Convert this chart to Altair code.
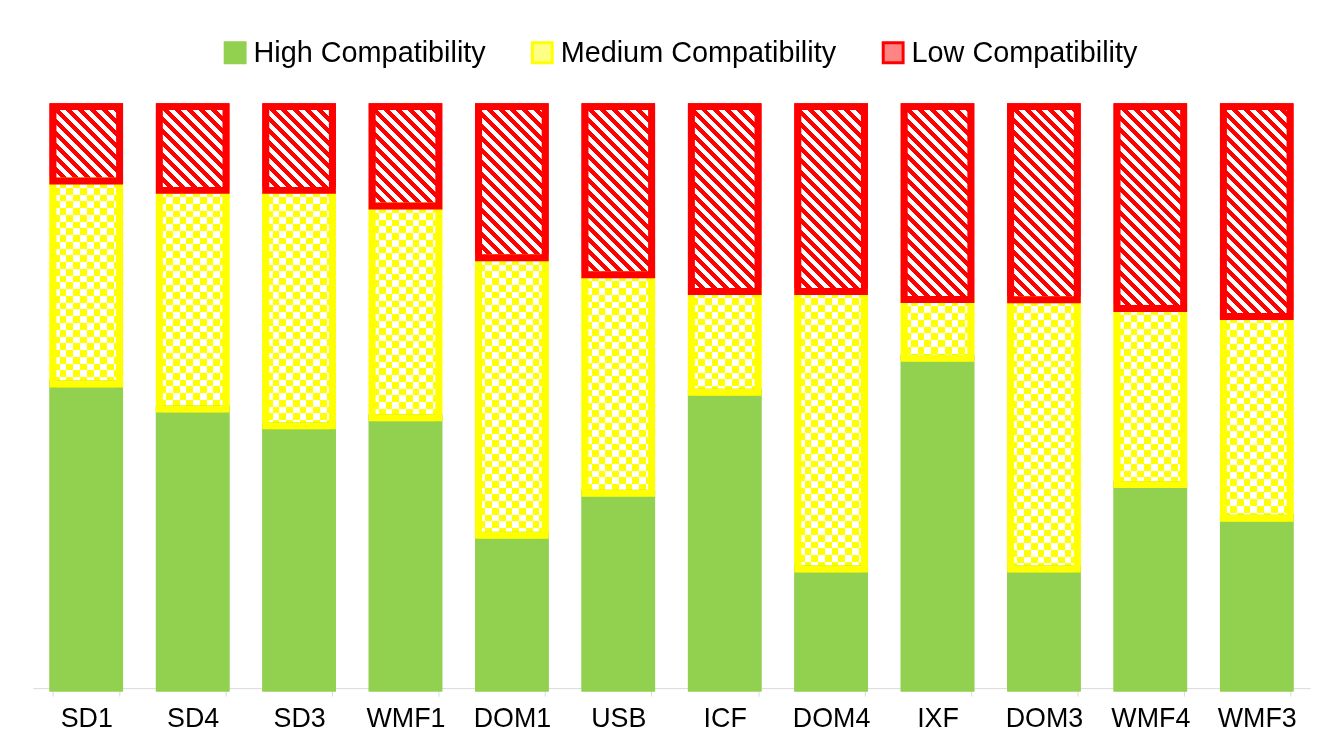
import math
import altair as alt
import pandas as pd

categories = ["SD1", "SD4", "SD3", "WMF1", "DOM1", "USB", "ICF", "DOM4", "IXF", "DOM3", "WMF4", "WMF3"]
high = [52.3, 48.0, 45.1, 46.5, 26.3, 33.5, 50.9, 20.5, 56.8, 20.5, 35.0, 29.2]
medium = [34.9, 37.6, 40.5, 36.4, 47.7, 37.6, 17.3, 47.7, 10.1, 46.3, 30.3, 34.7]
low = [12.8, 14.4, 14.4, 17.1, 26.0, 28.9, 31.8, 31.8, 33.2, 33.2, 34.7, 36.1]
levels = ["High Compatibility", "Medium Compatibility", "Low Compatibility"]

GREEN, YELLOW, RED = "#92d050", "#ffff00", "#ff0000"
legend_fills = [GREEN, "#ffff85", "#ff8585"]
strokes = [GREEN, YELLOW, RED]

# layout
W_PLOT, H_PLOT = 1285, 585
P_IN, P_OUT = 0.374, 0.189
step = W_PLOT / (len(categories) - P_IN + 2 * P_OUT)
bar_w = step * (1 - P_IN)

# pattern styles (gradient stripes)
HATCH_PERIOD, N_H = 8.5, 36
L_H = HATCH_PERIOD * N_H
hatch_stops = []
for k in range(N_H):
    a, b, c = k / N_H, (k + 0.5) / N_H, (k + 1) / N_H
    hatch_stops += [{"offset": a, "color": RED}, {"offset": b, "color": RED},
                    {"offset": b, "color": "#ffffff"}, {"offset": c, "color": "#ffffff"}]

CELL, N_C = 6.8, 54
L_C = CELL * N_C
chk_stops = []
for k in range(N_C):
    col = "#0000ff" if k % 2 == 0 else "#000000"
    chk_stops += [{"offset": k / N_C, "color": col}, {"offset": (k + 1) / N_C, "color": col}]


def hatch_grad(h):
    w = bar_w
    d = w * w + h * h
    return {"gradient": "linear", "x1": 0, "y1": 1,
            "x2": math.sqrt(2) * L_H * w / d, "y2": 1 - math.sqrt(2) * L_H * h / d,
            "stops": hatch_stops}


rows = []
for i, c in enumerate(categories):
    vals = [high[i], medium[i], low[i]]
    tot = sum(vals)
    for k, (lvl, v) in enumerate(zip(levels, vals)):
        h = v / tot * H_PLOT
        if k == 0:
            base, cv, ch = "transparent", "transparent", "transparent"
        elif k == 1:
            base = "#ffffff"
            cv = {"gradient": "linear", "x1": 0, "y1": 0, "x2": L_C / bar_w, "y2": 0, "stops": chk_stops}
            ch = {"gradient": "linear", "x1": 0, "y1": 0, "x2": 0, "y2": L_C / h, "stops": chk_stops}
        else:
            base, cv, ch = hatch_grad(h), "transparent", "transparent"
        rows.append({"Category": c, "Level": lvl, "Value": v, "Ord": k,
                     "base": base, "cv": cv, "ch": ch, "sc": strokes[k]})
df = pd.DataFrame(rows)

legend = alt.Legend(
    title=None, orient="none", direction="horizontal",
    legendX=189, legendY=-69, padding=0,
    labelFont="Liberation Sans", labelFontSize=29, labelColor="#000000", labelLimit=0,
    symbolType="square", symbolSize=400, symbolStrokeWidth=3,
    labelOffset=4, columnPadding=40,
)

x_enc = alt.X("Category:N", sort=categories,
              scale=alt.Scale(paddingInner=P_IN, paddingOuter=P_OUT),
              axis=alt.Axis(title=None, labelAngle=0, labelFont="Liberation Sans",
                            labelFontSize=27, labelColor="#000000", labelPadding=10,
                            domainColor="#d9d9d9", tickColor="#d9d9d9", tickSize=8,
                            tickBand="extent", grid=False))
y_enc = alt.Y("Value:Q", stack="normalize", axis=None)
order_enc = alt.Order("Ord:Q")

base = alt.Chart(df)

legend_layer = base.mark_bar(strokeWidth=7, strokeJoin="miter").encode(
    x=x_enc, y=y_enc, order=order_enc,
    color=alt.Color("Level:N", scale=alt.Scale(domain=levels, range=legend_fills), legend=legend),
    stroke=alt.Stroke("Level:N", scale=alt.Scale(domain=levels, range=strokes), legend=legend),
)

pattern_base = base.mark_bar(strokeWidth=0).encode(
    x=x_enc, y=y_enc, order=order_enc,
    fill=alt.Fill("base:N", scale=None),
)

checker_v = base.mark_bar(strokeWidth=0, blend="difference").encode(
    x=x_enc, y=y_enc, order=order_enc,
    fill=alt.Fill("cv:N", scale=None),
)

checker_h = base.mark_bar(strokeWidth=0, blend="difference").encode(
    x=x_enc, y=y_enc, order=order_enc,
    fill=alt.Fill("ch:N", scale=None),
)

borders = base.mark_bar(strokeWidth=7, strokeJoin="miter", fill="transparent").encode(
    x=x_enc, y=y_enc, order=order_enc,
    stroke=alt.Stroke("sc:N", scale=None),
)

chart = alt.layer(legend_layer, pattern_base, checker_v, checker_h, borders).properties(
    width=W_PLOT, height=H_PLOT,
    autosize=alt.AutoSizeParams(type="none"),
    padding={"left": 25, "top": 97, "right": 25, "bottom": 59},
    background="#ffffff",
).configure_view(stroke=None)

chart.save("out.html", embed_options={"renderer": "svg", "actions": False})
